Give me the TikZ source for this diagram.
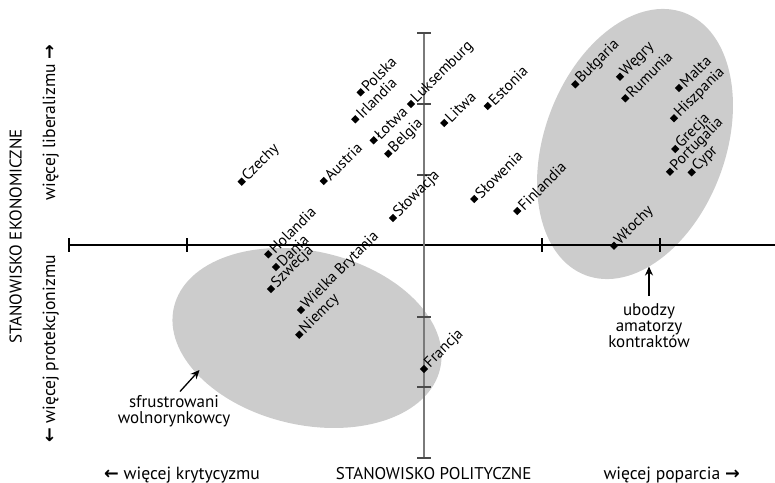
\documentclass[tikz,border=0pt]{standalone}
\usepackage{fontspec}
\setmainfont{PT Sans}
\newfontfamily\arrowfont{DejaVu Sans}
\usetikzlibrary{shapes.geometric,arrows.meta}
\definecolor{blobgray}{HTML}{CCCCCC}
\definecolor{axisgray}{HTML}{7A7A7A}
\definecolor{tickgray}{HTML}{4A4A4A}
\tikzset{
  dot/.style={diamond,fill=black,inner sep=0pt,minimum size=8.5pt},
  lab/.style={anchor=west,rotate=45,inner xsep=4.5pt,inner ysep=0pt,font=\fontsize{15.3}{15}\selectfont},
  axlab/.style={inner sep=0pt,font=\fontsize{17}{17}\selectfont},
  axlow/.style={inner sep=0pt,font=\fontsize{17.6}{17}\selectfont},
  note/.style={align=center,inner sep=0pt,font=\fontsize{17}{16}\selectfont},
  arr/.style={line width=1.3pt,-{Stealth[length=9pt,width=8pt]}},
  htick/.style={line width=1.1pt,black},
  vtick/.style={line width=1.2pt,tickgray}
}
\newcommand{\larr}{{\arrowfont\bfseries ←}}
\newcommand{\rarr}{{\arrowfont\bfseries →}}
\begin{document}
\begin{tikzpicture}[x=1pt,y=-1pt]
\useasboundingbox (0,0) rectangle (775,482);
% blobs
\fill[blobgray,rotate around={69.4:(635,144)}] (635,144) ellipse [x radius=140.2pt,y radius=90.4pt];
\fill[blobgray,rotate around={-12.95:(307,338)}] (307,338) ellipse [x radius=136.6pt,y radius=86.8pt];
% horizontal axis
\coordinate (hl) at (69,245);
\coordinate (hr) at (775,245);
\draw[line width=1.1pt,black] (hl) -- (hr);
\foreach \x in {69,187,542,660} \draw[htick] (\x,238) -- (\x,252);
% vertical axis
\coordinate (vt) at (424,33);
\coordinate (vb) at (424,458);
\draw[line width=2pt,axisgray] (vt) -- (vb);
\foreach \y in {33,104,175,317,387,458} \draw[vtick] (417,\y) -- (431,\y);
% countries
\foreach \n/\x/\y/\t in {
 pl/360.7/92.3/Polska,
 ie/355.3/119.3/Irlandia,
 lu/411/104/Luksemburg,
 lv/373.7/140.3/Łotwa,
 be/388.3/153.7/Belgia,
 lt/444.3/123/Litwa,
 ee/487.7/106/Estonia,
 cz/241.7/181.7/Czechy,
 at/323.7/181/Austria,
 si/474.3/199/Słowenia,
 fi/517.3/211/Finlandia,
 sk/393/218/Słowacja,
 bg/575.3/84.3/Bułgaria,
 hu/620/76.7/Węgry,
 ro/625.3/98.3/Rumunia,
 mt/679/88/Malta,
 es/674/118.3/Hiszpania,
 gr/675.3/149/Grecja,
 pt/670/171.7/Portugalia,
 cy/691.7/172.3/Cypr,
 it/614/245.7/Włochy,
 nl/268.3/254.3/Holandia,
 dk/276/267/Dania,
 se/271/289/Szwecja,
 uk/301/310/Wielka Brytania,
 de/299.3/334.7/Niemcy,
 fr/424/369/Francja}
{
  \node[dot] (\n) at (\x,\y) {};
  \node[lab] (\n-l) at (\n.center) {\t};
}
% annotations
\node[note] (sf) at (174,411) {sfrustrowani\\wolnorynkowcy};
\coordinate (sfa) at (180,391.5);
\coordinate (sfb) at (199.5,370);
\draw[arr] (sfa) -- (sfb);
\node[note] (ub) at (649,326) {ubodzy\\amatorzy\\kontraktów};
\coordinate (uba) at (649,296);
\coordinate (ubb) at (649,266.5);
\draw[arr] (uba) -- (ubb);
% axis labels
\node[axlab,anchor=base] (pol) at (433.7,479.5) {STANOWISKO POLITYCZNE};
\node[axlow,anchor=base west] (kr) at (104,479.5) {\larr\ więcej krytycyzmu};
\node[axlow,anchor=base east] (pop) at (740,479.5) {więcej poparcia \rarr};
\node[axlab,anchor=base,rotate=90] (eko) at (21.5,236.5) {STANOWISKO EKONOMICZNE};
\node[axlow,anchor=base,rotate=90] (lib) at (55,122.5) {więcej liberalizmu \rarr};
\node[axlow,anchor=base,rotate=90] (pro) at (55,349) {\larr\ więcej protekcjonizmu};
\end{tikzpicture}
\end{document}
